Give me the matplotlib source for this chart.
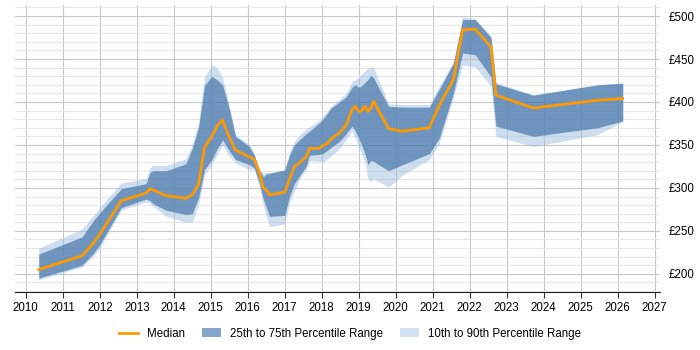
import matplotlib
matplotlib.use("Agg")
import matplotlib.pyplot as plt
from matplotlib.ticker import MultipleLocator, FuncFormatter
from matplotlib.patches import Patch
from matplotlib.lines import Line2D

plt.rcParams['font.family'] = ['Liberation Sans', 'DejaVu Sans']

# ---------- DATA ----------
dates = [2010.35, 2011.52, 2011.83, 2012.0, 2012.58, 2013.25, 2013.36, 2013.43,
         2013.79, 2014.33, 2014.5, 2014.67, 2014.83, 2015.03, 2015.17, 2015.32,
         2015.49, 2015.67, 2016.05, 2016.18, 2016.32, 2016.42, 2016.5, 2016.59,
         2017.0, 2017.13, 2017.26, 2017.45, 2017.58, 2017.67, 2017.92, 2018.03,
         2018.16, 2018.25, 2018.48, 2018.66, 2018.82, 2018.91, 2019.0, 2019.06,
         2019.17, 2019.25, 2019.33, 2019.41, 2019.5, 2019.81, 2020.19, 2020.91,
         2021.18, 2021.56, 2021.81, 2022.15, 2022.58, 2022.71, 2023.72, 2025.46,
         2026.14]

median = [205, 221, 236, 246, 285, 294, 299, 298, 291, 288, 292, 304, 347, 360,
          372, 379, 360, 344, 336, 333, 317, 300, 298, 292, 295, 310, 325, 331,
          336, 346, 346, 349, 352, 357, 364, 373, 391, 395, 389, 389, 395, 389,
          393, 401, 393, 369, 366, 370, 396, 426, 484, 485, 464, 408, 393, 402,
          404]

p25 = [195, 210, 224, 234, 277, 287, 285, 282, 274, 269, 270, 288, 321, 333,
       345, 356, 344, 333, 327, 323, 305, 287, 278, 267, 268, 290, 305, 317,
       325, 338, 339, 340, 344, 347, 354, 363, 372, 366, 358, 352, 340, 327,
       332, 331, 328, 320, 327, 340, 358, 410, 457, 455, 429, 372, 360, 370,
       378]

p75 = [223, 243, 262, 271, 299, 305, 318, 320, 320, 328, 346, 370, 419, 430,
       426, 420, 394, 360, 348, 338, 320, 313, 316, 317, 321, 338, 350, 358,
       363, 366, 375, 380, 387, 393, 400, 406, 417, 420, 417, 418, 423, 426,
       431, 428, 420, 395, 394, 394, 415, 445, 496, 496, 475, 421, 408, 420,
       422]

p10 = [193, 208, 220, 230, 274, 284, 282, 279, 267, 260, 260, 280, 315, 327,
       339, 350, 338, 329, 321, 321, 300, 280, 268, 255, 258, 282, 296, 314,
       320, 332, 331, 330, 334, 337, 346, 356, 366, 358, 348, 342, 330, 310,
       307, 311, 308, 301, 315, 333, 352, 405, 443, 441, 418, 360, 348, 362,
       377]

p90 = [230, 252, 268, 277, 306, 311, 324, 326, 326, 334, 351, 376, 429, 443,
       440, 429, 398, 362, 350, 339, 322, 317, 318, 318, 321, 342, 354, 364,
       368, 371, 378, 383, 390, 395, 403, 410, 424, 426, 429, 432, 436, 439,
       441, 440, 430, 398, 397, 397, 418, 447, 499, 497, 476, 423, 408, 420,
       422]

years = list(range(2010, 2028))

# ---------- PLOT ----------
fig = plt.figure(figsize=(7, 3.5), dpi=100)
ax = fig.add_axes([0.021, 0.166, 0.922, 0.82])

light = "#9fbfe1"
dark = "#4777ab"
orange = "#ff9900"

# semi-transparent bands, so the grid shows through like the original
ax.fill_between(dates, p10, p90, color=light, alpha=0.5, linewidth=0, zorder=2)
ax.fill_between(dates, p25, p75, color=dark, alpha=0.7, linewidth=0, zorder=3)
ax.plot(dates, median, color=orange, linewidth=2, zorder=4)

ax.set_xlim(2009.7, 2027.15)
ax.set_ylim(179, 513)

ax.set_xticks(years)
ax.set_xticklabels([str(y) for y in years])
ax.yaxis.set_major_locator(MultipleLocator(50))
ax.yaxis.set_minor_locator(MultipleLocator(10))
ax.yaxis.set_major_formatter(FuncFormatter(lambda v, p: f"£{int(v)}"))
ax.yaxis.tick_right()
ax.tick_params(axis="y", which="both", length=0, labelsize=8.3, pad=6)
ax.tick_params(axis="x", length=4, color="#333333", labelsize=8.3)

# Grid
ax.grid(True, which="major", axis="both", color="#c8c8c8", linewidth=0.8, zorder=0)
ax.grid(True, which="minor", axis="y", color="#e6e6e6", linewidth=0.8, zorder=0)
ax.set_axisbelow(True)

for side in ["left", "top", "right"]:
    ax.spines[side].set_visible(False)
ax.spines["bottom"].set_color("#222222")

# Legend
handles = [
    Line2D([0], [0], color=orange, linewidth=2),
    Patch(facecolor="#86a6c9", edgecolor="none"),
    Patch(facecolor="#d2e1f0", edgecolor="none"),
]
fig.legend(handles, ["Median", "25th to 75th Percentile Range",
                     "10th to 90th Percentile Range"],
           loc="center", bbox_to_anchor=(0.5, 0.047), ncol=3, frameon=False,
           fontsize=8.3, handlelength=1.6, columnspacing=1.5)

fig.savefig("out.png", dpi=100)
